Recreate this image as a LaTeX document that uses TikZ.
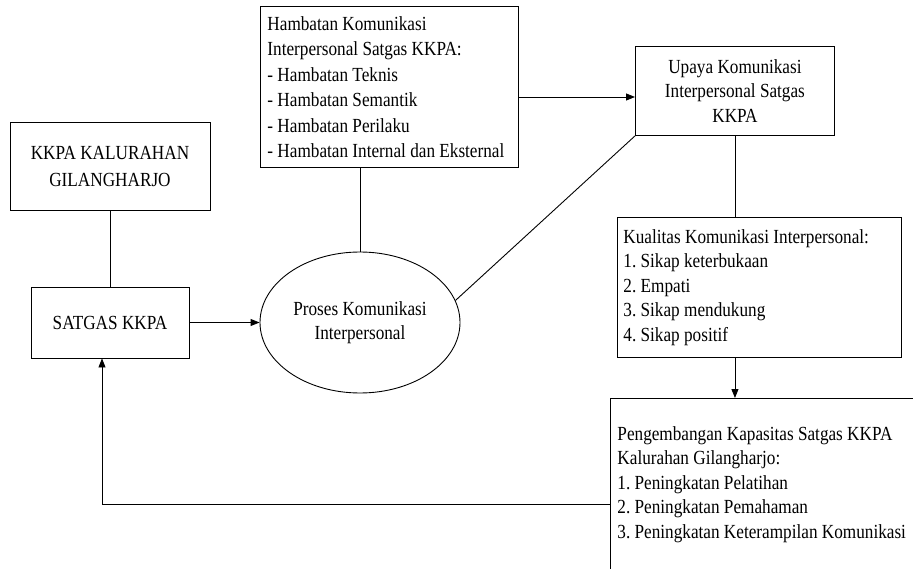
\documentclass[tikz,border=0pt]{standalone}
\usepackage{fontspec}
\setmainfont{Liberation Serif}[FakeStretch=0.86]
\usetikzlibrary{arrows.meta,shapes.geometric}
\newcommand\dfont{\fontsize{20}{24.5}\selectfont\frenchspacing}
\newcommand\dfontb{\fontsize{20}{25.5}\selectfont\frenchspacing}
\newcommand\tline[1]{{\spaceskip=0pt\xspaceskip=0pt\mbox{#1}}}
\begin{document}
\begin{tikzpicture}[x=1pt,y=-1pt,
  box/.style={draw, line width=0.9pt, inner sep=0pt, font=\dfont},
  ell/.style={draw, ellipse, line width=0.9pt, inner sep=0pt, font=\dfont, align=center, minimum width=200, minimum height=141},
  conn/.style={line width=0.9pt},
  arr/.style={line width=0.9pt, -{Triangle[length=9pt,width=7pt]}}]
\useasboundingbox (0,0) rectangle (913,569);

\node[box, minimum width=200, minimum height=88, align=center] (kkpa) at (110,166) {KKPA KALURAHAN\\[2.5pt]GILANGHARJO};
\node[box, minimum width=158, minimum height=71] (satgas) at (110,322.5) {SATGAS KKPA};
\node[ell] (proc) at (360,322.5) {Proses Komunikasi\\Interpersonal};
\node[box, anchor=north west, text width=244, inner xsep=7, minimum height=161, align=left, font=\dfontb] (hamb) at (260,6)
 {\tline{Hambatan Komunikasi}\\\tline{Interpersonal Satgas KKPA:}\\\tline{- Hambatan Teknis}\\\tline{- Hambatan Semantik}\\\tline{- Hambatan Perilaku}\\\tline{- Hambatan Internal dan Eksternal}};
\node[box, anchor=north west, minimum width=199, minimum height=89, align=center] (upaya) at (635,46)
 {Upaya Komunikasi\\Interpersonal Satgas\\KKPA};
\node[box, anchor=north west, text width=272, inner xsep=6, minimum height=140, align=left] (kual) at (617,217)
 {\tline{Kualitas Komunikasi Interpersonal:}\\\tline{1. Sikap keterbukaan}\\\tline{2. Empati}\\\tline{3. Sikap mendukung}\\\tline{4. Sikap positif}};
\node[box, draw=none, anchor=north west, text width=330, inner xsep=7, minimum height=172, align=left] (peng) at (610,398)
 {\tline{Pengembangan Kapasitas Satgas KKPA}\\\tline{Kalurahan Gilangharjo:}\\\tline{1. Peningkatan Pelatihan}\\\tline{2. Peningkatan Pemahaman}\\\tline{3. Peningkatan Keterampilan Komunikasi}};
\draw[conn] (peng.north east) -- (peng.north west) -- (peng.south west);

\coordinate (ha) at (0,97);
\coordinate (fb) at (102,504);

\draw[conn] (kkpa) -- (satgas);
\draw[arr] (satgas.east) -- (proc.west);
\draw[conn] (proc.north |- hamb.south) -- (proc.north);
\draw[arr] (hamb.east |- ha) -- (upaya.west |- ha);
\draw[conn] (upaya.south west) -- (proc.13);
\draw[conn] (upaya.south) -- (upaya.south |- kual.north);
\draw[arr] (upaya.south |- kual.south) -- (upaya.south |- peng.north);
\draw[arr] (peng.west |- fb) -- (fb) -- (fb |- satgas.south);
\end{tikzpicture}
\end{document}
